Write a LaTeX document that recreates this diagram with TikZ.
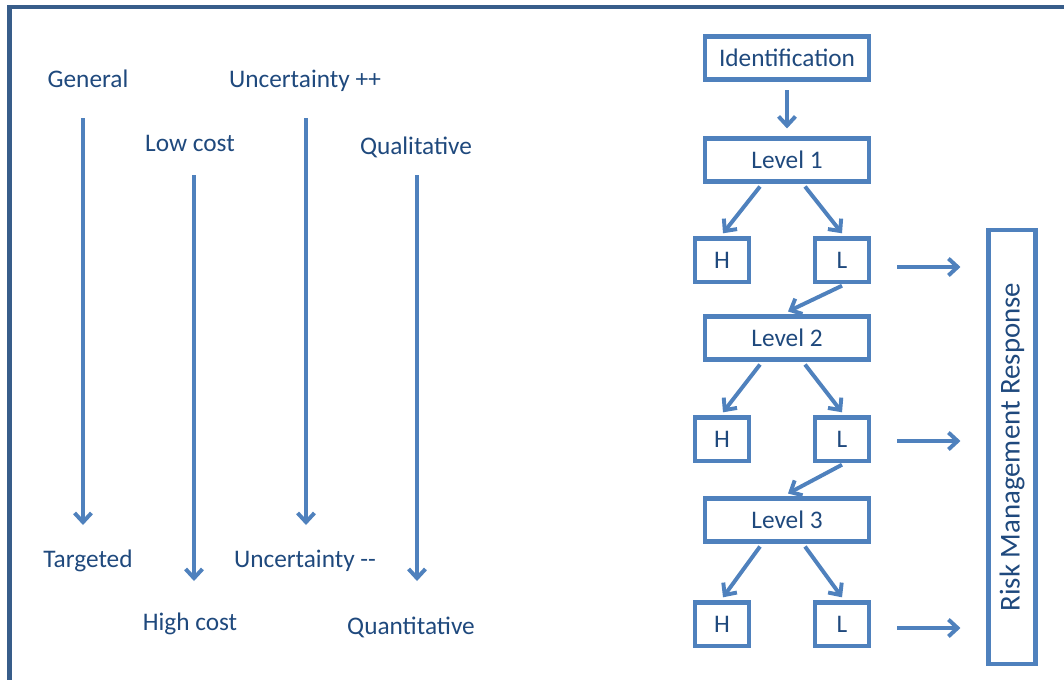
\documentclass[tikz,border=0pt]{standalone}
\usepackage{fontspec}
\setmainfont{Carlito}
\usetikzlibrary{arrows.meta}

\definecolor{framecol}{RGB}{56,93,138}
\definecolor{linecol}{RGB}{79,129,189}
\definecolor{textcol}{RGB}{31,73,125}

\tikzset{
  lbl/.style={text=textcol,font=\fontsize{18}{21}\selectfont,inner sep=0pt},
  box/.style={lbl,draw=linecol,line width=3pt,minimum width=4.1cm,minimum height=1.07cm},
  hlbox/.style={box,minimum width=1.36cm,minimum height=1.08cm},
  arr/.style={draw=linecol,line width=2.8pt,-{Straight Barb[length=6.5pt,width=12pt]}},
}

\begin{document}
\begin{tikzpicture}[x=0.025cm,y=-0.025cm]
\useasboundingbox (0,0) rectangle (1064,680);

% frame, only top and left edges show
\draw[framecol,line width=3.5pt] (1064,7) -- (9.5,7) -- (9.5,680);

% left: the four scales
\node[lbl] (general) at (88,79) {General};
\node[lbl] (targeted) at (88,561) {Targeted};
\node[lbl] (lowcost) at (190,143) {Low cost};
\node[lbl] (highcost) at (190,624) {High cost};
\node[lbl] (uncplus) at (305,81) {Uncertainty ++};
\node[lbl] (uncminus) at (305,561) {Uncertainty -{}-};
\node[lbl] (qual) at (416,147) {Qualitative};
\node[lbl] (quant) at (411,627) {Quantitative};

\draw[arr] ([shift={(-5,39)}]general.center) -- ([shift={(-5,-36)}]targeted.center);
\draw[arr] ([shift={(4,32)}]lowcost.center) -- ([shift={(4,-43)}]highcost.center);
\draw[arr] ([shift={(1,37)}]uncplus.center) -- ([shift={(1,-36)}]uncminus.center);
\draw[arr] ([shift={(1,28)}]qual.center) -- ([shift={(6,-46)}]quant.center);

% right: levels
\node[box] (ident) at (787,58) {Identification};
\node[box] (lvl1) at (787,160) {Level 1};
\node[hlbox] (h1) at (722,260) {H};
\node[hlbox] (l1) at (842,260) {L};
\node[box] (lvl2) at (787,338) {Level 2};
\node[hlbox] (h2) at (722,439) {H};
\node[hlbox] (l2) at (842,439) {L};
\node[box] (lvl3) at (787,520) {Level 3};
\node[hlbox] (h3) at (722,624) {H};
\node[hlbox] (l3) at (842,624) {L};
\node[box,rotate=90,minimum width=10.85cm,minimum height=1.17cm,font=\fontsize{20.5}{24}\selectfont] (rmr) at (1012,447) {Risk Management Response};

\draw[arr,shorten <=0.22cm,shorten >=0.2cm] (ident) -- (lvl1);

\draw[arr] ([shift={(-27,3)}]lvl1.south) -- ([shift={(1,-3)}]h1.north);
\draw[arr] ([shift={(18,3)}]lvl1.south) -- ([shift={(0,-3)}]l1.north);
\draw[arr] ([shift={(0,2)}]l1.south) -- ([shift={(1,-3)}]lvl2.north);

\draw[arr] ([shift={(-27,3)}]lvl2.south) -- ([shift={(1,-3)}]h2.north);
\draw[arr] ([shift={(18,3)}]lvl2.south) -- ([shift={(0,-3)}]l2.north);
\draw[arr] ([shift={(0,2)}]l2.south) -- ([shift={(1,-3)}]lvl3.north);

\draw[arr] ([shift={(-27,3)}]lvl3.south) -- ([shift={(1,-3)}]h3.north);
\draw[arr] ([shift={(18,3)}]lvl3.south) -- ([shift={(0,-3)}]l3.north);

% into the response box
\coordinate (out1) at ([shift={(0,7)}]l1.east);
\coordinate (out2) at ([shift={(0,2)}]l2.east);
\coordinate (out3) at ([shift={(0,4)}]l3.east);
\draw[arr,shorten <=0.65cm,shorten >=0.65cm] (out1) -- (out1 -| rmr.north);
\draw[arr,shorten <=0.65cm,shorten >=0.65cm] (out2) -- (out2 -| rmr.north);
\draw[arr,shorten <=0.65cm,shorten >=0.65cm] (out3) -- (out3 -| rmr.north);
\end{tikzpicture}
\end{document}
